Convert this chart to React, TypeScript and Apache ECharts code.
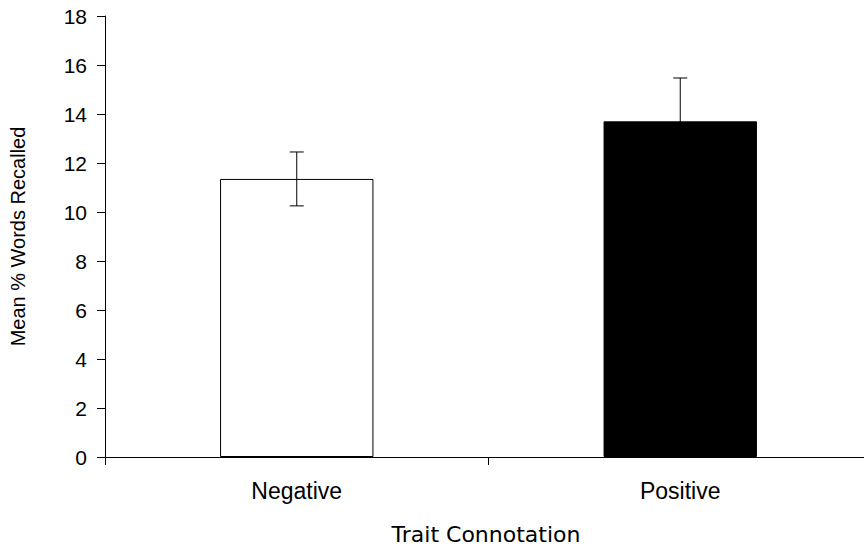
import React, { useEffect, useRef } from "react";
import * as echarts from "echarts";

const categories = ["Negative", "Positive"];
const means = [11.35, 13.7];
const errors = [1.1, 1.77];
const barColors = ["#ffffff", "#000000"];
const yTicks = [0, 2, 4, 6, 8, 10, 12, 14, 16, 18];
const xTitle = "Trait Connotation";
const yTitle = "Mean % Words Recalled";

export default function App() {
  const ref = useRef<HTMLDivElement>(null);
  useEffect(() => {
    document.body.style.margin = "0";
    document.body.style.overflow = "hidden";
    document.documentElement.style.overflow = "hidden";
    const chart = echarts.init(ref.current!, null, { renderer: "svg" });
    const font = "'Liberation Sans', Arial, sans-serif";
    chart.setOption({
      animation: false,
      backgroundColor: "#ffffff",
      grid: { left: 104, right: 0, top: 16, bottom: 90, containLabel: false },
      xAxis: {
        type: "category",
        data: categories,
        axisLine: { show: true, lineStyle: { color: "#000", width: 1 } },
        axisTick: { show: true, alignWithLabel: false, length: 8, lineStyle: { color: "#000" }, interval: 0 },
        axisLabel: { color: "#000", fontSize: 23, fontFamily: font, margin: 22 },
      },
      yAxis: {
        type: "value",
        min: yTicks[0],
        max: yTicks[yTicks.length - 1],
        interval: 2,
        axisLine: { show: true, lineStyle: { color: "#000", width: 1 } },
        axisTick: { show: true, inside: false, length: 8, lineStyle: { color: "#000" } },
        splitLine: { show: false },
        axisLabel: { color: "#000", fontSize: 21, fontFamily: font, margin: 18 },
        name: yTitle,
        nameLocation: "middle",
        nameGap: 77,
        nameTextStyle: { color: "#000", fontSize: 20, fontFamily: font },
      },
      graphic: [
        {
          type: "text",
          x: 486,
          y: 534,
          style: {
            text: xTitle,
            fill: "#000",
            font: "22px 'DejaVu Sans', Verdana, sans-serif",
            textAlign: "center",
            textVerticalAlign: "middle",
          },
        },
      ],
      series: [
        {
          type: "bar",
          barWidth: "40%",
          data: means.map((v, i) => ({
            value: v,
            itemStyle: { color: barColors[i], borderColor: "#000", borderWidth: 1 },
          })),
        },
        {
          type: "custom",
          data: means.map((v, i) => [i, v - errors[i], v + errors[i]]),
          renderItem: (params: any, api: any) => {
            const x = api.value(0);
            const lo = api.coord([x, api.value(1)]);
            const hi = api.coord([x, api.value(2)]);
            const half = 7;
            const style = { stroke: "#000", lineWidth: 1 };
            return {
              type: "group",
              children: [
                { type: "line", shape: { x1: lo[0], y1: lo[1], x2: hi[0], y2: hi[1] }, style },
                { type: "line", shape: { x1: hi[0] - half, y1: hi[1], x2: hi[0] + half, y2: hi[1] }, style },
                { type: "line", shape: { x1: lo[0] - half, y1: lo[1], x2: lo[0] + half, y2: lo[1] }, style },
              ],
            };
          },
          z: 5,
        },
      ],
    });
    return () => chart.dispose();
  }, []);
  return <div ref={ref} style={{ width: 872, height: 547 }} />;
}
